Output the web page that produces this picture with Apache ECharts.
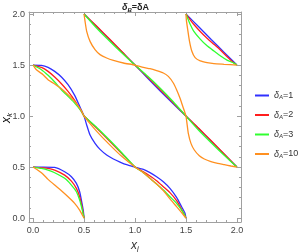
<!DOCTYPE html>
<html><head><meta charset="utf-8">
<script src="https://cdn.jsdelivr.net/npm/echarts@6/dist/echarts.min.js"></script>
<style>html,body{margin:0;padding:0;background:#fff}#c{width:300px;height:252px}</style>
</head><body><div id="c"></div><script>
// ---- data ----
const deltas = [1, 2, 3, 10];
const seriesNames = ['δA=1', 'δA=2', 'δA=3', 'δA=10'];
const majorTicks = [0, 0.5, 1, 1.5, 2];
const minorTicks = [0.1,0.2,0.3,0.4,0.6,0.7,0.8,0.9,1.1,1.2,1.3,1.4,1.6,1.7,1.8,1.9];

// delta = 1
const blueA = [[0,0.5],[0.1,0.5],[0.212,0.497],[0.31,0.454],[0.376,0.405],[0.425,0.34],[0.457,0.258],[0.48,0.144],[0.493,0.07],[0.5,0]];
const blueBand1 = [[0,1.5],[0.082,1.497],[0.147,1.477],[0.212,1.438],[0.278,1.383],[0.343,1.307],[0.408,1.203],[0.457,1.095],[0.5,1.0],[0.526,0.912],[0.559,0.814],[0.608,0.732],[0.657,0.673],[0.722,0.618],[0.788,0.579],[0.853,0.549],[0.918,0.523],[1.0,0.5],[1.082,0.477],[1.147,0.445],[1.212,0.405],[1.278,0.356],[1.343,0.291],[1.408,0.203],[1.457,0.111],[1.49,0.05],[1.5,0]];
const blueBand2 = [[0.5,2],[0.625,1.875],[0.75,1.75],[0.875,1.625],[1,1.5],[1.125,1.37],[1.25,1.243],[1.375,1.12],[1.5,1.0],[1.625,0.875],[1.75,0.75],[1.875,0.625],[2,0.5]];
const blueD = [[1.5,2],[1.625,1.875],[1.75,1.748],[1.875,1.624],[2,1.5]];

// delta = 2
const redA = [[0,0.5],[0.147,0.487],[0.212,0.47],[0.31,0.421],[0.376,0.362],[0.425,0.291],[0.457,0.209],[0.48,0.111],[0.5,0]];
const redBand1 = [[0,1.5],[0.082,1.477],[0.147,1.438],[0.212,1.383],[0.278,1.317],[0.343,1.242],[0.408,1.154],[0.474,1.046],[0.5,1.0],[0.625,0.88],[0.75,0.755],[0.875,0.628],[1.0,0.5],[1.082,0.454],[1.147,0.412],[1.212,0.366],[1.278,0.307],[1.343,0.249],[1.408,0.17],[1.474,0.053],[1.5,0]];
const redBand2 = [[0.5,2],[0.625,1.88],[0.75,1.755],[0.875,1.628],[1,1.5],[1.125,1.38],[1.25,1.255],[1.375,1.13],[1.5,1.0],[1.625,0.88],[1.75,0.755],[1.875,0.628],[2,0.5]];
const redD = [[1.5,2],[1.574,1.902],[1.64,1.829],[1.707,1.763],[1.774,1.704],[1.84,1.645],[1.907,1.579],[1.974,1.517],[2,1.5]];

// delta = 3
const greenA = [[0,0.5],[0.082,0.487],[0.147,0.47],[0.212,0.444],[0.31,0.389],[0.376,0.323],[0.425,0.258],[0.457,0.176],[0.483,0.078],[0.5,0]];
const greenBand1 = [[0,1.5],[0.082,1.454],[0.147,1.399],[0.212,1.334],[0.278,1.258],[0.343,1.193],[0.408,1.128],[0.474,1.046],[0.5,1.0],[0.625,0.888],[0.75,0.765],[0.875,0.635],[1.0,0.5],[1.082,0.445],[1.147,0.389],[1.212,0.334],[1.278,0.275],[1.343,0.209],[1.408,0.144],[1.474,0.053],[1.5,0]];
const greenBand2 = [[0.5,2],[0.625,1.86],[0.75,1.735],[0.875,1.615],[1,1.5],[1.125,1.39],[1.25,1.27],[1.375,1.14],[1.5,1.0],[1.625,0.86],[1.75,0.735],[1.875,0.615],[2,0.5]];
const greenD = [[1.5,2],[1.54,1.902],[1.574,1.836],[1.64,1.754],[1.707,1.688],[1.774,1.638],[1.84,1.589],[1.907,1.546],[1.974,1.517],[2,1.5]];

// delta = 10
const orangeA = [[0,0.5],[0.082,0.444],[0.147,0.379],[0.212,0.323],[0.278,0.268],[0.343,0.209],[0.408,0.144],[0.457,0.078],[0.48,0.035],[0.5,0]];
const orangeBand1 = [[0,1.5],[0.033,1.454],[0.098,1.405],[0.147,1.356],[0.212,1.314],[0.278,1.268],[0.343,1.209],[0.408,1.144],[0.474,1.053],[0.5,1.0],[0.625,0.85],[0.75,0.72],[0.875,0.6],[1.0,0.5],[1.082,0.445],[1.147,0.389],[1.212,0.334],[1.278,0.268],[1.343,0.187],[1.408,0.111],[1.457,0.053],[1.5,0]];
const orangeBand2 = [[0.5,2],[0.51,1.928],[0.526,1.83],[0.559,1.732],[0.608,1.651],[0.657,1.602],[0.722,1.569],[0.788,1.546],[0.886,1.52],[1,1.5],[1.082,1.477],[1.147,1.464],[1.212,1.445],[1.278,1.422],[1.327,1.389],[1.376,1.324],[1.408,1.258],[1.441,1.177],[1.474,1.079],[1.5,1.0],[1.51,0.928],[1.523,0.83],[1.549,0.732],[1.582,0.667],[1.631,0.611],[1.68,0.579],[1.745,0.553],[1.811,0.536],[1.876,0.523],[1.941,0.51],[2,0.5]];
const orangeD = [[1.5,2],[1.504,1.94],[1.514,1.869],[1.534,1.737],[1.557,1.638],[1.59,1.573],[1.64,1.54],[1.707,1.523],[1.774,1.513],[1.874,1.507],[2,1.5]];

// ---- styling / assembly ----
const colors = ['#3030ff', '#ff1e1e', '#30ff30', '#ff9020'];
const curveSets = [
  [blueA, blueBand1, blueBand2, blueD],
  [redA, redBand1, redBand2, redD],
  [greenA, greenBand1, greenBand2, greenD],
  [orangeA, orangeBand1, orangeBand2, orangeD]
];
const FRAME = '#a0a0a0';
const FONT = 'Liberation Sans';

const series = [];
curveSets.forEach((set, i) => {
  set.forEach(seg => {
    series.push({
      type: 'line', name: seriesNames[i], data: seg,
      xAxisIndex: 0, yAxisIndex: 0,
      showSymbol: false, smooth: 0.18, silent: true,
      lineStyle: { color: colors[i], width: 1.3 },
      itemStyle: { color: colors[i] }
    });
  });
});

function axis(dim, pos, vals, len, showLine, showLabel, extra) {
  const a = {
    type: 'value', gridIndex: 0, position: pos,
    min: dim === 'x' ? -0.04 : -0.039, max: dim === 'x' ? 2.04 : 2.02,
    axisLine: { show: showLine, onZero: false, lineStyle: { color: FRAME, width: 1 } },
    axisTick: { show: true, inside: true, length: len, customValues: vals, lineStyle: { color: FRAME, width: 1 } },
    axisLabel: { show: showLabel, customValues: vals, formatter: v => v.toFixed(1), color: '#444', fontSize: 9, fontFamily: FONT, margin: 4 },
    splitLine: { show: false }
  };
  return Object.assign(a, extra || {});
}
const nameRich = {
  i: { fontStyle: 'italic', fontSize: 12, fontFamily: FONT, color: '#333' },
  s: { fontStyle: 'italic', fontSize: 8, fontFamily: FONT, color: '#333', padding: [5, 0, 0, 0] }
};

const option = {
  animation: false,
  grid: { left: 29, top: 12, width: 212, height: 210, containLabel: false, outerBoundsMode: 'none' },
  title: {
    text: '{d|δ}{s|B}{t|=δA}', left: 117, top: -2,
    textStyle: { rich: {
      d: { fontStyle: 'italic', fontSize: 9, fontFamily: FONT, color: '#222' },
      s: { fontStyle: 'italic', fontSize: 6, fontFamily: FONT, color: '#222', padding: [4, 0, 0, 0] },
      t: { fontSize: 9, fontFamily: FONT, color: '#222' }
    } }
  },
  graphic: [{
    type: 'text', x: 7, y: 118, rotation: Math.PI / 2, silent: true,
    style: { text: '{i|x}{s|k}', rich: nameRich, align: 'center', verticalAlign: 'middle' }
  }],
  legend: {
    orient: 'vertical', left: 250, top: 86, itemWidth: 14, itemHeight: 2, itemGap: 10,
    icon: 'rect', data: seriesNames,
    formatter: n => '{d|δ}{s|A}{t|' + n.slice(2) + '}',
    textStyle: { rich: {
      d: { fontStyle: 'italic', fontSize: 9, fontFamily: FONT, color: '#333' },
      s: { fontStyle: 'italic', fontSize: 6, fontFamily: FONT, color: '#333', padding: [4, 0, 0, 0] },
      t: { fontSize: 9, fontFamily: FONT, color: '#333' }
    } }
  },
  xAxis: [
    axis('x', 'bottom', majorTicks, 4, true, true, {
      name: '{i|x}{s|j}', nameLocation: 'middle', nameGap: 13, nameTextStyle: { rich: nameRich } }),
    axis('x', 'bottom', minorTicks, 2, false, false),
    axis('x', 'top', majorTicks, 4, true, false),
    axis('x', 'top', minorTicks, 2, false, false)
  ],
  yAxis: [
    axis('y', 'left', majorTicks, 4, true, true),
    axis('y', 'left', minorTicks, 2, false, false),
    axis('y', 'right', majorTicks, 4, true, false),
    axis('y', 'right', minorTicks, 2, false, false)
  ],
  series: series
};
const chart = echarts.init(document.getElementById('c'), null, { renderer: 'canvas' });
chart.setOption(option);
</script></body></html>
